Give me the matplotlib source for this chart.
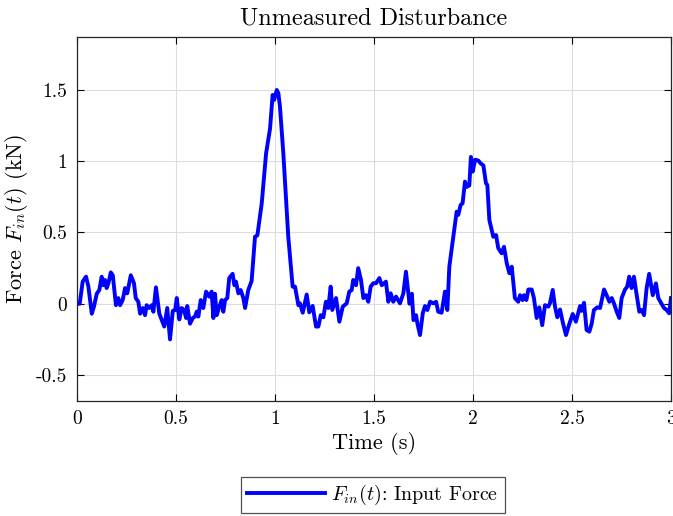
import numpy as np
import matplotlib
matplotlib.use("Agg")
import matplotlib.pyplot as plt

plt.rcParams['font.family'] = 'serif'
plt.rcParams['font.serif'] = ['cmr10']
plt.rcParams['mathtext.fontset'] = 'cm'
plt.rcParams['axes.unicode_minus'] = False
plt.rcParams['axes.formatter.use_mathtext'] = True

# disturbance force (time in s, force in kN)
time = [0.000, 0.015, 0.030, 0.047, 0.059, 0.076, 0.087, 0.101, 0.114, 0.126,
        0.134, 0.143, 0.151, 0.160, 0.172, 0.182, 0.198, 0.210, 0.219, 0.232,
        0.244, 0.255, 0.273, 0.289, 0.298, 0.311, 0.320, 0.333, 0.345, 0.353,
        0.366, 0.379, 0.387, 0.400, 0.417, 0.429, 0.442, 0.457, 0.471, 0.485,
        0.497, 0.505, 0.518, 0.530, 0.542, 0.552, 0.558, 0.572, 0.586, 0.597,
        0.606, 0.614, 0.626, 0.639, 0.653, 0.669, 0.681, 0.690, 0.698, 0.707,
        0.720, 0.732, 0.740, 0.749, 0.760, 0.770, 0.787, 0.796, 0.804, 0.816,
        0.828, 0.841, 0.850, 0.866, 0.883, 0.900, 0.912, 0.934, 0.956, 0.976,
        0.989, 0.997, 1.010, 1.018, 1.026, 1.043, 1.068, 1.090, 1.102, 1.119,
        1.127, 1.141, 1.161, 1.174, 1.191, 1.208, 1.220, 1.232, 1.245, 1.258,
        1.270, 1.282, 1.290, 1.309, 1.326, 1.343, 1.363, 1.376, 1.388, 1.396,
        1.410, 1.421, 1.435, 1.447, 1.460, 1.472, 1.484, 1.497, 1.511, 1.528,
        1.540, 1.561, 1.573, 1.585, 1.598, 1.612, 1.632, 1.649, 1.662, 1.680,
        1.692, 1.700, 1.713, 1.720, 1.733, 1.747, 1.758, 1.770, 1.784, 1.800,
        1.814, 1.825, 1.842, 1.859, 1.871, 1.881, 1.901, 1.918, 1.926, 1.938,
        1.948, 1.960, 1.969, 1.982, 1.990, 1.999, 2.011, 2.027, 2.039, 2.053,
        2.066, 2.073, 2.083, 2.103, 2.117, 2.128, 2.145, 2.157, 2.171, 2.184,
        2.196, 2.212, 2.229, 2.238, 2.251, 2.258, 2.270, 2.280, 2.297, 2.308,
        2.322, 2.335, 2.350, 2.364, 2.381, 2.389, 2.403, 2.414, 2.426, 2.440,
        2.453, 2.470, 2.487, 2.504, 2.520, 2.541, 2.549, 2.561, 2.574, 2.588,
        2.600, 2.611, 2.628, 2.642, 2.662, 2.675, 2.689, 2.701, 2.712, 2.726,
        2.739, 2.751, 2.768, 2.779, 2.789, 2.801, 2.813, 2.823, 2.840, 2.852,
        2.864, 2.877, 2.890, 2.908, 2.924, 2.936, 2.953, 2.965, 2.978, 2.991,
        3.000]
force = [0.000, 0.000, 0.155, 0.190, 0.120, -0.070, -0.020, 0.070, 0.096, 0.190,
         0.130, 0.167, 0.110, 0.144, 0.220, 0.200, -0.010, 0.040, -0.010, 0.026,
         0.110, 0.073, 0.200, 0.144, 0.040, 0.014, -0.070, -0.030, -0.080, -0.010,
         -0.030, -0.010, -0.056, 0.115, -0.070, -0.114, -0.160, -0.030, -0.250, -0.050,
         -0.044, 0.040, -0.110, -0.030, -0.044, -0.100, -0.016, -0.140, -0.100, -0.090,
         -0.055, -0.090, 0.026, -0.030, 0.085, 0.050, 0.085, -0.100, 0.070, -0.080,
         -0.020, 0.026, -0.056, 0.026, 0.040, 0.180, 0.210, 0.130, 0.155, 0.073,
         0.096, 0.040, -0.030, 0.096, 0.160, 0.470, 0.480, 0.705, 1.055, 1.230,
         1.465, 1.430, 1.500, 1.477, 1.383, 1.055, 0.470, 0.120, 0.120, -0.010,
         0.003, -0.063, 0.065, -0.060, -0.015, -0.160, -0.160, -0.080, -0.095, 0.014,
         -0.030, 0.120, -0.044, 0.040, -0.126, -0.020, 0.003, 0.085, 0.096, 0.167,
         0.130, 0.250, 0.167, 0.040, 0.060, 0.014, 0.120, 0.144, 0.144, 0.180,
         0.130, 0.155, 0.014, 0.073, 0.014, 0.050, 0.003, 0.073, 0.225, 0.000,
         0.070, -0.115, -0.080, -0.140, -0.220, -0.067, -0.016, -0.044, 0.014, 0.003,
         0.014, -0.056, -0.063, 0.085, -0.044, 0.260, 0.470, 0.646, 0.623, 0.693,
         0.705, 0.857, 0.820, 0.830, 1.030, 0.927, 1.010, 1.005, 0.985, 0.970,
         0.845, 0.833, 0.588, 0.470, 0.482, 0.390, 0.354, 0.400, 0.284, 0.214,
         0.260, 0.040, 0.014, 0.060, 0.026, 0.060, 0.026, 0.100, 0.100, 0.040,
         -0.100, -0.025, -0.150, -0.010, -0.020, 0.003, 0.097, -0.016, -0.095, -0.040,
         -0.126, -0.220, -0.140, -0.072, -0.126, -0.016, -0.050, 0.007, -0.184, -0.196,
         -0.137, -0.044, -0.025, -0.030, 0.100, 0.060, 0.014, 0.040, 0.003, -0.056,
         -0.100, 0.040, 0.100, 0.120, 0.190, 0.110, 0.190, 0.096, -0.056, -0.044,
         -0.080, 0.110, 0.210, 0.060, 0.143, 0.040, -0.002, -0.030, -0.044, -0.067,
         0.040]

xticks = [0, 0.5, 1, 1.5, 2, 2.5, 3]
yticks = [-0.5, 0, 0.5, 1, 1.5]

fig = plt.figure(figsize=(6.73, 5.16), dpi=100)
ax = fig.add_axes([0.114, 0.2235, 0.883, 0.7055])

ax.plot(time, force, color=(0, 0, 1), linewidth=2.8, label=r'$F_{in}(t)$: Input Force')

ax.set_xlim(0, 3)
ax.set_ylim(-0.68, 1.874)
ax.set_xticks(xticks)
ax.set_xticklabels(['%g' % v for v in xticks])
ax.set_yticks(yticks)
ax.set_yticklabels(['%g' % v for v in yticks])
ax.tick_params(direction='in', top=True, right=True, labelsize=14, length=5, width=0.8, pad=7)
ax.grid(True, color='#dcdcdc', linewidth=0.8)
ax.set_axisbelow(True)
for s in ax.spines.values():
    s.set_linewidth(0.9)
    s.set_color('#262626')

ax.set_title('Unmeasured Disturbance', fontsize=17.5, pad=9)
ax.set_xlabel('Time (s)', fontsize=16, labelpad=3)
ax.set_ylabel(r'Force $F_{in}(t)$ (kN)', fontsize=16, labelpad=4)

leg = fig.legend(loc='center', bbox_to_anchor=(373 / 673, 1 - 495 / 516), fontsize=14.4,
                 frameon=True, fancybox=False, edgecolor='#262626', handlelength=3.9,
                 borderpad=0.3, handletextpad=0.3, borderaxespad=0.2)
leg.get_frame().set_linewidth(0.9)

fig.savefig('out.png', dpi=100)
